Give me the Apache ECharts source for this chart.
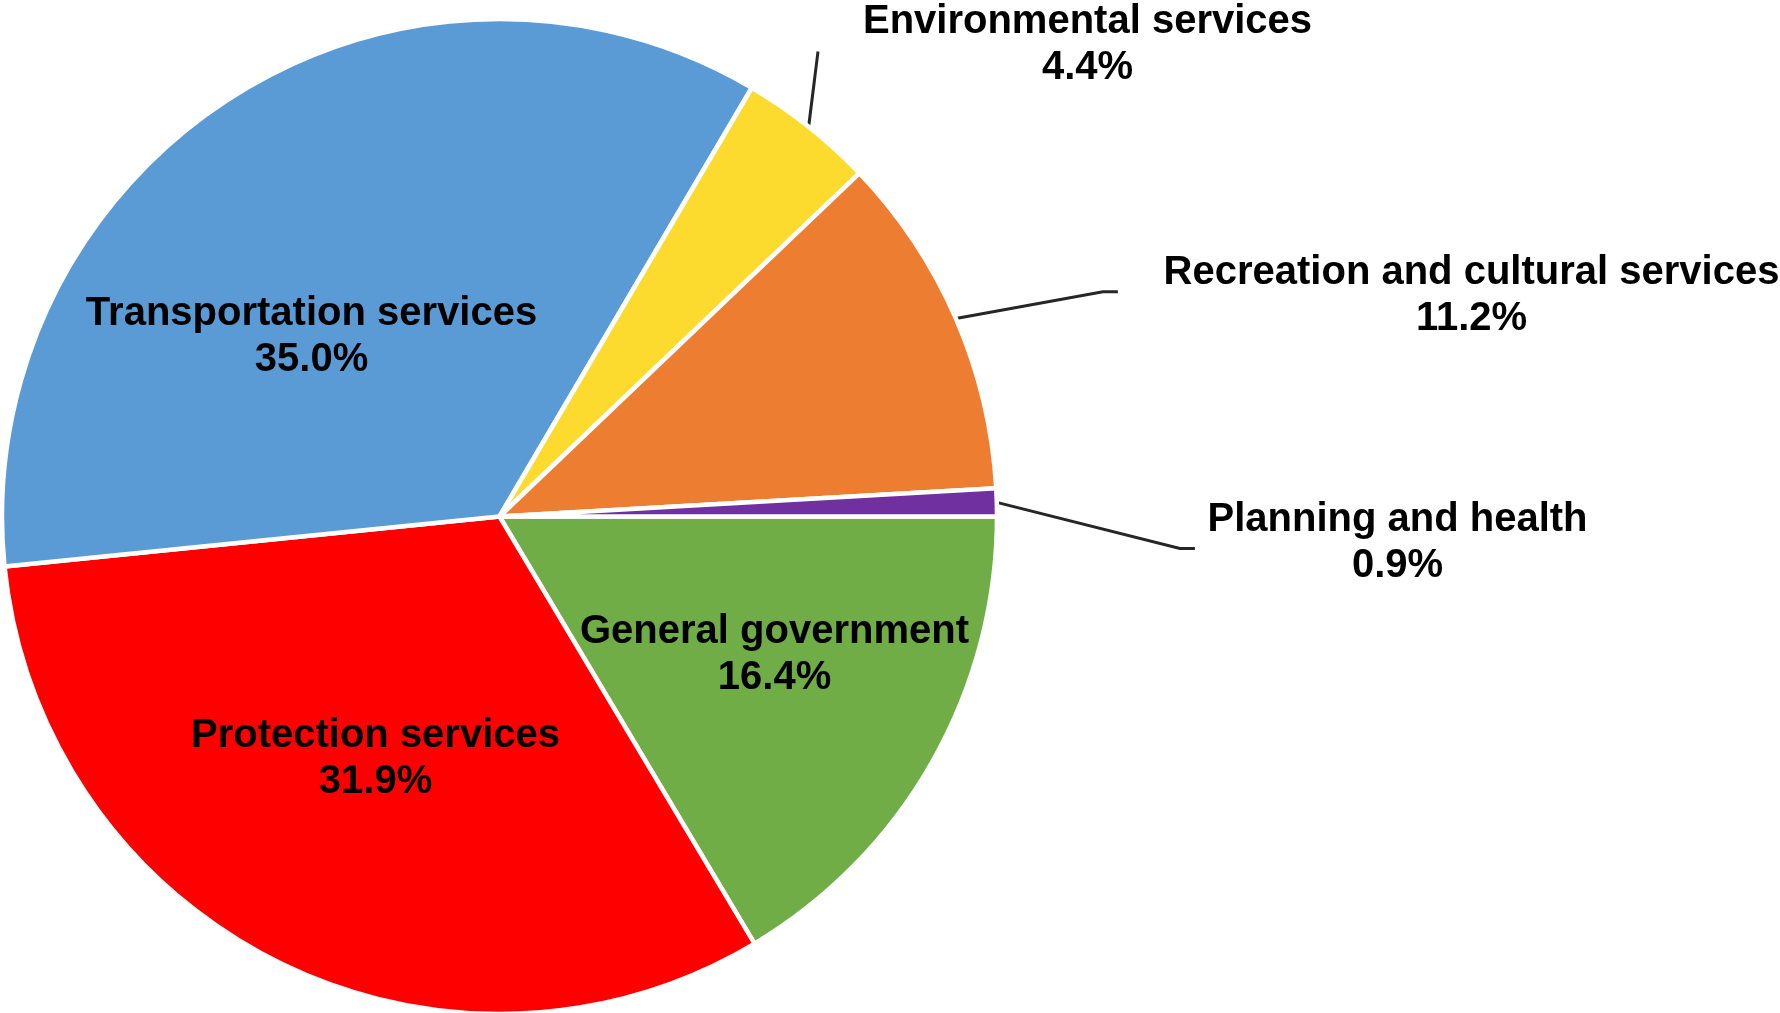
<!DOCTYPE html>
<html>
<head>
<meta charset="utf-8">
<title>Expenditure by function</title>
<script src="https://cdn.jsdelivr.net/npm/echarts@6/dist/echarts.min.js"></script>
<style>
  html, body { margin: 0; padding: 0; background: #ffffff; }
  #chart { width: 1780px; height: 1013px; }
</style>
</head>
<body>
<div id="chart"></div>
<script>
// Slices listed clockwise from 3 o'clock
const categories = [
  'General government',
  'Protection services',
  'Transportation services',
  'Environmental services',
  'Recreation and cultural services',
  'Planning and health'
];
const shares = [16.4, 31.9, 35.0, 4.4, 11.2, 0.9];
const colors = ['#70AD47', '#FF0000', '#5B9BD5', '#FDDB2E', '#ED7D31', '#7030A0'];

// Pie geometry (px)
const CX = 499.5, CY = 516.5, RADIUS = 497.5;

// Label block centres, as offsets from the pie centre
const labelSpots = [
  [275, 138.5],
  [-124, 242.5],
  [-188, -179.5],
  [588, -471.5],
  [972, -220.5],
  [898, 26.5]
];
// Leader line ends relative to the label centre; tail = short horizontal run
const leaders = {
  3: { end: [-269.5, 6.5], tail: 0 },
  4: { end: [-353.6, -4.2], tail: 15 },
  5: { end: [-202.6, 5.5], tail: 15 }
};

const data = categories.map(function (name, i) {
  const item = { name: name, value: shares[i], itemStyle: { color: colors[i] } };
  if (!leaders[i]) item.labelLine = { show: false };
  return item;
});

const chart = echarts.init(document.getElementById('chart'), null, { renderer: 'canvas' });
chart.setOption({
  backgroundColor: '#ffffff',
  animation: false,
  series: [{
    type: 'pie',
    center: [CX, CY],
    radius: RADIUS,
    startAngle: 0,
    clockwise: true,
    avoidLabelOverlap: false,
    data: data,
    itemStyle: { borderColor: '#ffffff', borderWidth: 4.5 },
    label: {
      show: true,
      formatter: function (p) { return p.name + '\n' + p.value.toFixed(1) + '%'; },
      fontFamily: '"Liberation Sans", Arial, sans-serif',
      fontWeight: 'bold',
      fontSize: 40,
      lineHeight: 46.5,
      color: '#000000'
    },
    labelLine: {
      show: true,
      length: 20,
      length2: 15,
      lineStyle: { color: '#262626', width: 3 }
    },
    labelLayout: function (params) {
      const i = params.dataIndex;
      const spot = labelSpots[i];
      const x = CX + spot[0];
      const y = CY + spot[1];
      const res = { x: x, y: y, align: 'center', verticalAlign: 'middle' };
      const lead = leaders[i];
      if (lead && params.labelLinePoints) {
        const p0 = params.labelLinePoints[0];
        const end = [x + lead.end[0], y + lead.end[1]];
        const elbow = [end[0] - lead.tail, end[1]];
        res.labelLinePoints = [[p0[0], p0[1]], elbow, end];
      }
      return res;
    }
  }]
});
</script>
</body>
</html>
